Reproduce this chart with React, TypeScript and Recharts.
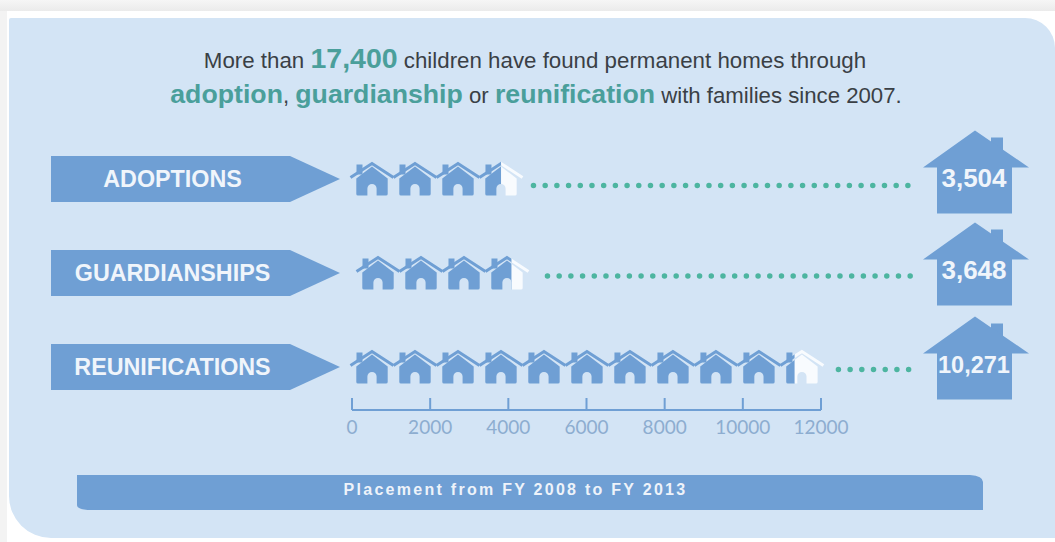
import React from "react";
import { BarChart, Bar, XAxis, YAxis, LabelList } from "recharts";

const categories = ["ADOPTIONS", "GUARDIANSHIPS", "REUNIFICATIONS"];
const placements = [3504, 3648, 10271];
const axisTicks = [0, 2000, 4000, 6000, 8000, 10000, 12000];
const chartData = categories.map((name, i) => ({ name, value: placements[i] }));

const BLUE = "#6f9fd4";
const PANEL = "#d3e4f5";
const TEAL = "#4db5a0";
const HEAD_TEAL = "#4a9f9b";
const FONT = "'Liberation Sans', Arial, sans-serif";
const UNITS_PER_HOUSE = 1000;
const PICTO_STRETCH = 1.1;
const rowStart = [0, 6, 0];
const dotGap = [13, 21, 17];
const dotDy = [6.5, 3, 2.5];
const bigHouseDy = [0, -2, -2];
const DOT_END = 913;

function House({ cx, by, fill }: { cx: number; by: number; fill: string }) {
  const d = `M${cx - 15.7} ${by - 17} L${cx} ${by - 29} L${cx + 15.7} ${by - 17} L${cx + 15.7} ${by - 1.5} Q${cx + 15.7} ${by} ${cx + 14} ${by} L${cx + 4.6} ${by} L${cx + 4.6} ${by - 7} A4.6 4.6 0 0 0 ${cx - 4.6} ${by - 7} L${cx - 4.6} ${by} L${cx - 14} ${by} Q${cx - 15.7} ${by} ${cx - 15.7} ${by - 1.5} Z`;
  return (
    <g>
      <rect x={cx - 15.5} y={by - 31} width={6} height={10} fill={fill} />
      <path d={d} fill={fill} />
      <path d={`M${cx - 21.5} ${by - 18} L${cx} ${by - 32} L${cx + 21.5} ${by - 18}`} fill="none" stroke={fill} strokeWidth={3} />
    </g>
  );
}

function HouseRow(props: any) {
  const { x, y, width, height, index, value } = props;
  const v = Array.isArray(value) ? value[1] : value;
  const pitch = (width / v) * UNITS_PER_HOUSE * PICTO_STRETCH;
  const count = Math.ceil(v / UNITS_PER_HOUSE);
  const frac = (v % UNITS_PER_HOUSE) / UNITS_PER_HOUSE;
  const x0 = x + rowStart[index] + 20;
  const by = y + height;
  const lastCx = x0 + (count - 1) * pitch;
  const split = lastCx - 15.7 + frac * 31.4;
  const houseEnd = lastCx + 21.5;
  const cy = y + height / 2;
  const dotY = cy + dotDy[index];
  const idBlue = `blue-clip-${index}`;
  const idWhite = `white-clip-${index}`;
  return (
    <g>
      <defs>
        <clipPath id={idBlue}>
          <rect x={x - 5} y={y - 10} width={split - x + 5} height={height + 20} />
        </clipPath>
        <clipPath id={idWhite}>
          <rect x={split} y={y - 10} width={60} height={height + 20} />
        </clipPath>
      </defs>
      <g clipPath={`url(#${idBlue})`}>
        {Array.from({ length: count }, (_, i) => (
          <House key={i} cx={x0 + i * pitch} by={by} fill={BLUE} />
        ))}
      </g>
      <g clipPath={`url(#${idWhite})`}>
        <House cx={lastCx} by={by} fill="#f8fbfe" />
      </g>
      <line
        x1={houseEnd + dotGap[index] - 2}
        x2={DOT_END}
        y1={dotY}
        y2={dotY}
        stroke={TEAL}
        strokeWidth={5.5}
        strokeLinecap="round"
        strokeDasharray="0 11.7"
      />
    </g>
  );
}

function ArrowTick(props: any) {
  const { y, payload } = props;
  const c = y + 0.5;
  return (
    <g>
      <path d={`M51 ${c - 23} L290 ${c - 23} L340 ${c} L290 ${c + 23} L51 ${c + 23} Z`} fill={BLUE} />
      <text x={172.5} y={c + 8} textAnchor="middle" fill="#f0f5fb" fontFamily={FONT} fontWeight={700} fontSize={23.3}>
        {payload.value}
      </text>
    </g>
  );
}

function BigHouseLabel(props: any) {
  const { y, height, value, index } = props;
  const c = y + height / 2 + bigHouseDy[index ?? 0];
  const label = Number(value).toLocaleString("en-US");
  const cx = 975;
  return (
    <g>
      <rect x={991} y={c - 41.5} width={12} height={20} fill={BLUE} />
      <path
        d={`M${cx} ${c - 48.5} L${cx + 54} ${c - 11.5} L${cx + 37} ${c - 11.5} L${cx + 37} ${c + 34.5} L${cx - 38} ${c + 34.5} L${cx - 38} ${c - 11.5} L${cx - 52} ${c - 11.5} Z`}
        fill={BLUE}
      />
      <text x={cx - 1} y={c + 8} textAnchor="middle" fill="#f0f5fb" fontFamily={FONT} fontWeight={700} fontSize={label.length > 5 ? 23.5 : 26}>
        {label}
      </text>
    </g>
  );
}

export default function App() {
  return (
    <div style={{ position: "absolute", left: 0, top: 0, width: 1055, height: 542, overflow: "hidden", background: "#ffffff" }}>
      <div style={{ position: "absolute", left: 0, top: 0, width: 1055, height: 11, background: "linear-gradient(#f6f6f6,#ebebeb)" }} />
      <div style={{ position: "absolute", left: 0, top: 11, width: 7, height: 531, background: "#f3f3f3" }} />
      <div style={{ position: "absolute", left: 9, top: 18, width: 1046, height: 520, background: PANEL, borderRadius: "2px 30px 0 42px" }} />
      <svg width={1055} height={542} style={{ position: "absolute", left: 0, top: 0 }}>
        <text x={535} y={67.5} textAnchor="middle" fontFamily={FONT} fontSize={22.3} fill="#3a3f45">
          More than <tspan fontSize={28.5} fontWeight={700} fill={HEAD_TEAL}>17,400</tspan> children have found permanent homes through
        </text>
        <text x={536} y={103} textAnchor="middle" fontFamily={FONT} fontSize={22.2} fill="#3a3f45">
          <tspan fontSize={26.7} fontWeight={700} fill={HEAD_TEAL}>adoption</tspan>,{" "}
          <tspan fontSize={26.7} fontWeight={700} fill={HEAD_TEAL}>guardianship</tspan> or{" "}
          <tspan fontSize={26.7} fontWeight={700} fill={HEAD_TEAL}>reunification</tspan> with families since 2007.
        </text>
        <path d="M77 475 L970 475 Q983 476 983 482 L983 510 L92 510 Q77 510 77 505 Z" fill={BLUE} />
        <text x={515.5} y={495} textAnchor="middle" fontFamily={FONT} fontWeight={700} fontSize={16} letterSpacing={2.27} fill="#eef3fa">
          Placement from FY 2008 to FY 2013
        </text>
      </svg>
      <div style={{ position: "absolute", left: 0, top: 0 }}>
        <BarChart
          width={1055}
          height={542}
          layout="vertical"
          data={chartData}
          margin={{ top: 131.5, right: 234, bottom: 0, left: 0 }}
          barSize={33}
        >
          <XAxis
            type="number"
            domain={[0, 12000]}
            ticks={axisTicks}
            interval={0}
            height={132}
            stroke={BLUE}
            axisLine={{ stroke: BLUE, strokeWidth: 2 }}
            tickLine={{ stroke: BLUE, strokeWidth: 2 }}
            tickSize={-12}
            tickMargin={23}
            tick={{ fill: "#8dadd0", fontSize: 19, fontFamily: "Lato" }}
          />
          <YAxis
            type="category"
            dataKey="name"
            width={352}
            axisLine={false}
            tickLine={false}
            tick={<ArrowTick />}
            padding={{ top: 0, bottom: -3.5 }}
          />
          <Bar dataKey="value" isAnimationActive={false} shape={<HouseRow />} fill={BLUE}>
            <LabelList dataKey="value" content={<BigHouseLabel />} />
          </Bar>
        </BarChart>
      </div>
    </div>
  );
}
